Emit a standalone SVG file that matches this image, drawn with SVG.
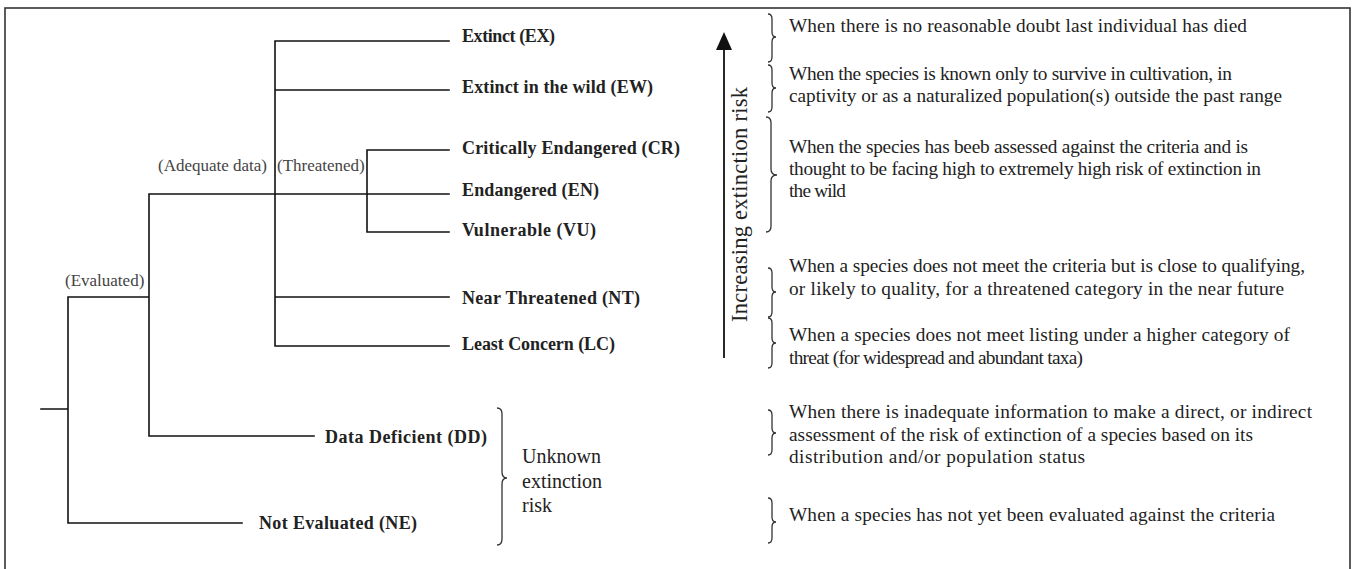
<svg xmlns="http://www.w3.org/2000/svg" width="1358" height="569" viewBox="0 0 1358 569">
<style>
.ln{stroke:#111;stroke-width:1.6;fill:none;stroke-linecap:square}
.br{stroke:#333;stroke-width:1.3;fill:none}
.cat{font-family:"Liberation Serif",serif;font-size:18px;font-weight:bold;fill:#222}
.sub{font-family:"Liberation Serif",serif;font-size:17px;fill:#444}
.desc{font-family:"Liberation Serif",serif;font-size:19.3px;fill:#222}
.unk{font-family:"Liberation Serif",serif;font-size:20px;fill:#222}
</style>
<rect x="5" y="8" width="1345" height="580" fill="#fff" stroke="#333" stroke-width="1.6"/>
<g id="connectors">
<path class="ln" d="M41,409 H68 M68,297 V523 H242 M68,297 H149 M149,194 V436 H314 M149,194 H449 M275,41 V346 M275,41 H449 M275,90 H449 M275,297 H449 M275,346 H449 M367,150 V232 M367,150 H449 M367,232 H449"/>
</g>
<g id="branch-labels">
<text class="sub" x="158" y="171">(Adequate data)</text>
<text class="sub" x="277" y="171">(Threatened)</text>
<text class="sub" x="65" y="286">(Evaluated)</text>
</g>
<g id="node-EX"><text class="cat" x="462" y="42" textLength="93">Extinct (EX)</text></g>
<g id="node-EW"><text class="cat" x="462" y="93" textLength="191">Extinct in the wild (EW)</text></g>
<g id="node-CR"><text class="cat" x="462" y="154" textLength="218">Critically Endangered (CR)</text></g>
<g id="node-EN"><text class="cat" x="462" y="196" textLength="137">Endangered (EN)</text></g>
<g id="node-VU"><text class="cat" x="462" y="236" textLength="134">Vulnerable (VU)</text></g>
<g id="node-NT"><text class="cat" x="462" y="304" textLength="178">Near Threatened (NT)</text></g>
<g id="node-LC"><text class="cat" x="462" y="350" textLength="153">Least Concern (LC)</text></g>
<g id="node-DD"><text class="cat" x="325" y="443" textLength="162">Data Deficient (DD)</text></g>
<g id="node-NE"><text class="cat" x="259" y="529" textLength="158">Not Evaluated (NE)</text></g>
<g id="unknown">
<path class="br" d="M497,408 Q502,408 502,414 V472 Q502,478 507,478 Q502,478 502,484 V539 Q502,545 497,545"/>
<text class="unk" x="522" y="463">Unknown</text>
<text class="unk" x="522" y="488">extinction</text>
<text class="unk" x="522" y="512">risk</text>
</g>
<g id="risk-arrow">
<line x1="724" y1="358" x2="724" y2="48" stroke="#111" stroke-width="1.8"/>
<polygon points="724,32 716,50 732,50" fill="#111"/>
<text class="desc" style="font-size:22.5px" transform="translate(747,322) rotate(-90)" textLength="235">Increasing extinction risk</text>
</g>
<g id="braces">
<path class="br" d="M768,14 Q772,14 772,19 V32 Q772,37 776,37 Q772,37 772,42 V57 Q772,62 768,62"/>
<path class="br" d="M768,65 Q772,65 772,70 V83 Q772,88 776,88 Q772,88 772,93 V107 Q772,112 768,112"/>
<path class="br" d="M766,117 Q771,117 771,123 V169 Q771,175 777,175 Q771,175 771,181 V226 Q771,232 766,232"/>
<path class="br" d="M768,268 Q772,268 772,273 V287 Q772,292 776,292 Q772,292 772,297 V312 Q772,317 768,317"/>
<path class="br" d="M768,318 Q772,318 772,323 V338 Q772,343 776,343 Q772,343 772,348 V363 Q772,368 768,368"/>
<path class="br" d="M768,410 Q772,410 772,415 V428 Q772,433 776,433 Q772,433 772,438 V450 Q772,455 768,455"/>
<path class="br" d="M768,498 Q772,498 772,503 V517 Q772,522 776,522 Q772,522 772,527 V538 Q772,543 768,543"/>
</g>
<g id="descriptions">
<text class="desc" x="789" y="32" textLength="458">When there is no reasonable doubt last individual has died</text>
<text class="desc" x="789" y="80" textLength="443">When the species is known only to survive in cultivation, in</text>
<text class="desc" x="789" y="102" textLength="493">captivity or as a naturalized population(s) outside the past range</text>
<text class="desc" x="789" y="153" textLength="459">When the species has beeb assessed against the criteria and is</text>
<text class="desc" x="789" y="175" textLength="472">thought to be facing high to extremely high risk of extinction in</text>
<text class="desc" x="789" y="197" textLength="57">the wild</text>
<text class="desc" x="789" y="272" textLength="516">When a species does not meet the criteria but is close to qualifying,</text>
<text class="desc" x="789" y="295" textLength="495">or likely to quality, for a threatened category in the near future</text>
<text class="desc" x="789" y="341" textLength="501">When a species does not meet listing under a higher category of</text>
<text class="desc" x="789" y="364" textLength="294">threat (for widespread and abundant taxa)</text>
<text class="desc" x="789" y="418" textLength="523">When there is inadequate information to make a direct, or indirect</text>
<text class="desc" x="789" y="441" textLength="464">assessment of the risk of extinction of a species based on its</text>
<text class="desc" x="789" y="463" textLength="296">distribution and/or population status</text>
<text class="desc" x="789" y="521" textLength="486">When a species has not yet been evaluated against the criteria</text>
</g>
</svg>
